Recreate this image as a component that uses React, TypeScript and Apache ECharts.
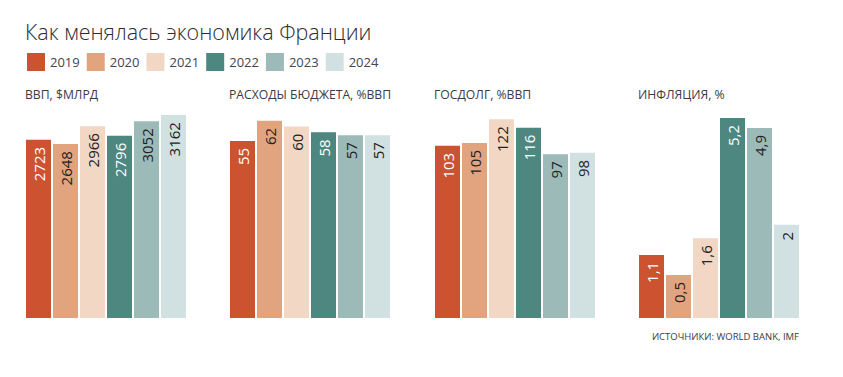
import React, { useEffect, useRef } from "react";
import * as echarts from "echarts";

const years = ["2019", "2020", "2021", "2022", "2023", "2024"];
const yearColors = ["#CC5230", "#E2A47E", "#F2D7C5", "#4D877F", "#9BBAB8", "#D1E1E1"];
const labelColors = ["#ffffff", "#222222", "#222222", "#ffffff", "#222222", "#222222"];

const gdp = [2723, 2648, 2966, 2796, 3052, 3162];
const budget = [55, 62, 60, 58, 57, 57];
const debt = [103, 105, 122, 116, 97, 98];
const inflation = [1.1, 0.5, 1.6, 5.2, 4.9, 2];

const panelTitles = ["ВВП, $МЛРД", "РАСХОДЫ БЮДЖЕТА, %ВВП", "ГОСДОЛГ, %ВВП", "ИНФЛЯЦИЯ, %"];
const panelData = [gdp, budget, debt, inflation];
// axis floor/ceiling of each panel (the bars start at the floor)
const axisMin = [-436, -6.9, -20, -0.79];
const axisMax = [3252, 65.8, 128.6, 5.44];

const chartTitle = "Как менялась экономика Франции";
const sourceText = "ИСТОЧНИКИ: WORLD BANK, IMF";

const panelLeft = [25, 229, 434, 638];
const panelWidth = 162;
const gridTop = 110;
const gridHeight = 208;
const FONT = "'Open Sans', 'Noto Sans', sans-serif";

export default function App() {
  const ref = useRef<HTMLDivElement>(null);
  useEffect(() => {
    if (!ref.current) return;
    const chart = echarts.init(ref.current, undefined, { renderer: "svg" });
    const grids = panelLeft.map((l) => ({ left: l, top: gridTop, width: panelWidth, height: gridHeight }));
    const xAxes = panelLeft.map((_, i) => ({ type: "category", gridIndex: i, data: [""], show: false }));
    const yAxes = panelLeft.map((_, i) => ({
      type: "value",
      gridIndex: i,
      min: axisMin[i],
      max: axisMax[i],
      startValue: axisMin[i],
      show: false,
      splitLine: { show: false },
    }));
    const series: any[] = [];
    panelData.forEach((vals, p) => {
      vals.forEach((v, y) => {
        series.push({
          type: "bar",
          name: years[y],
          xAxisIndex: p,
          yAxisIndex: p,
          data: [v],
          barWidth: 25,
          barGap: "8%",
          barCategoryGap: 0,
          itemStyle: { color: yearColors[y] },
          label: {
            show: true,
            position: "insideTop",
            rotate: 90,
            align: "right",
            verticalAlign: "middle",
            distance: 7,
            color: labelColors[y],
            fontSize: 15,
            fontFamily: FONT,
            formatter: (prm: any) => String(prm.value).replace(".", ","),
          },
        });
      });
    });
    const graphics: any[] = [
      {
        type: "text",
        x: 25,
        y: 31,
        style: { text: chartTitle, font: `300 21.5px ${FONT}`, fill: "#2b2b33", textVerticalAlign: "middle" },
      },
      ...panelTitles.map((t, i) => ({
        type: "text",
        x: panelLeft[i],
        y: 94,
        style: { text: t, font: `12.2px ${FONT}`, fill: "#3a3a48", textVerticalAlign: "middle" },
      })),
      {
        type: "text",
        x: 799,
        y: 336,
        style: { text: sourceText, font: `9.5px ${FONT}`, fill: "#3a3a48", textAlign: "right", textVerticalAlign: "middle" },
      },
    ];
    chart.setOption({
      animation: false,
      backgroundColor: "#ffffff",
      grid: grids,
      xAxis: xAxes,
      yAxis: yAxes,
      legend: {
        data: years,
        left: 27,
        top: 53,
        padding: 0,
        itemWidth: 18,
        itemHeight: 18,
        itemGap: 7,
        icon: "rect",
        selectedMode: false,
        textStyle: { fontFamily: FONT, fontSize: 13, color: "#444450", width: 35, padding: [0, 0, 0, 0] },
      },
      series,
      graphic: graphics,
    });
    return () => chart.dispose();
  }, []);
  return (
    <div
      ref={ref}
      style={{ position: "fixed", left: 0, top: 0, width: 843, height: 377, background: "#fff" }}
    />
  );
}
